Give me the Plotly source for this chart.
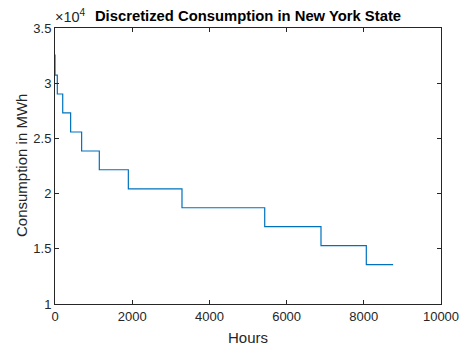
import plotly.graph_objects as go

# Step start hours and consumption levels (MWh)
step_hours = [0, 1, 60, 200, 405, 690, 1148, 1900, 3290, 5433, 6891, 8065, 8760]
step_levels = [32550, 30740, 29020, 27320, 25580, 23860, 22160, 20430, 18720, 17000, 15280, 13560, 13560]

x_ticks = [0, 2000, 4000, 6000, 8000, 10000]
x_ticktext = ["0", "2000", "4000", "6000", "8000", "10000"]
y_ticks = [10000, 15000, 20000, 25000, 30000, 35000]
y_ticktext = ["1", "1.5", "2", "2.5", "3", "3.5"]

axis_color = "#262626"
font_family = "Liberation Sans, Arial, Helvetica, sans-serif"

fig = go.Figure()
fig.add_trace(go.Scatter(
    x=step_hours, y=step_levels, mode="lines",
    line=dict(shape="hv", color="#0072BD", width=1.2),
    hoverinfo="skip", showlegend=False,
))

axis_common = dict(
    showgrid=False, zeroline=False, showline=True, linecolor=axis_color, linewidth=1,
    mirror="ticks", ticks="inside", ticklen=4, tickwidth=1, tickcolor=axis_color,
    tickfont=dict(family=font_family, size=13, color=axis_color),
    automargin=False,
)

W, H = 461, 345
L, T = 55, 28
R, B = W - 441, H - 304

fig.update_layout(
    width=W, height=H,
    margin=dict(l=L, r=R, t=T, b=B),
    paper_bgcolor="white", plot_bgcolor="white",
    font=dict(family=font_family, color=axis_color),
    title=dict(
        text="<b>Discretized Consumption in New York State</b>",
        font=dict(family=font_family, size=14.8, color="#000000"),
        x=248 / W, xanchor="center",
        yref="container", y=1 - 16 / H, yanchor="middle",
    ),
    xaxis=dict(range=[0, 10000], tickvals=x_ticks, ticktext=x_ticktext, **axis_common),
    yaxis=dict(range=[10000, 35000], tickvals=y_ticks, ticktext=y_ticktext, **axis_common),
    annotations=[
        dict(text="×10<sup>4</sup>", xref="paper", yref="paper", x=0, y=1,
             xanchor="left", yanchor="bottom", showarrow=False, xshift=-2, yshift=1,
             font=dict(family=font_family, size=14.5, color=axis_color)),
        dict(text="Hours", xref="paper", yref="paper", x=0.5, y=0,
             xanchor="center", yanchor="middle", showarrow=False, yshift=-33,
             font=dict(family=font_family, size=15, color=axis_color)),
        dict(text="Consumption in MWh", xref="paper", yref="paper", x=0, y=0.5,
             xanchor="center", yanchor="middle", showarrow=False, xshift=-34, textangle=-90,
             font=dict(family=font_family, size=15, color=axis_color)),
    ],
)

fig.write_html(
    "out.html",
    config={"displayModeBar": False},
    post_script=(
        "document.documentElement.style.overflow='hidden';"
        "document.body.style.margin='0';document.body.style.overflow='hidden';"
    ),
)
